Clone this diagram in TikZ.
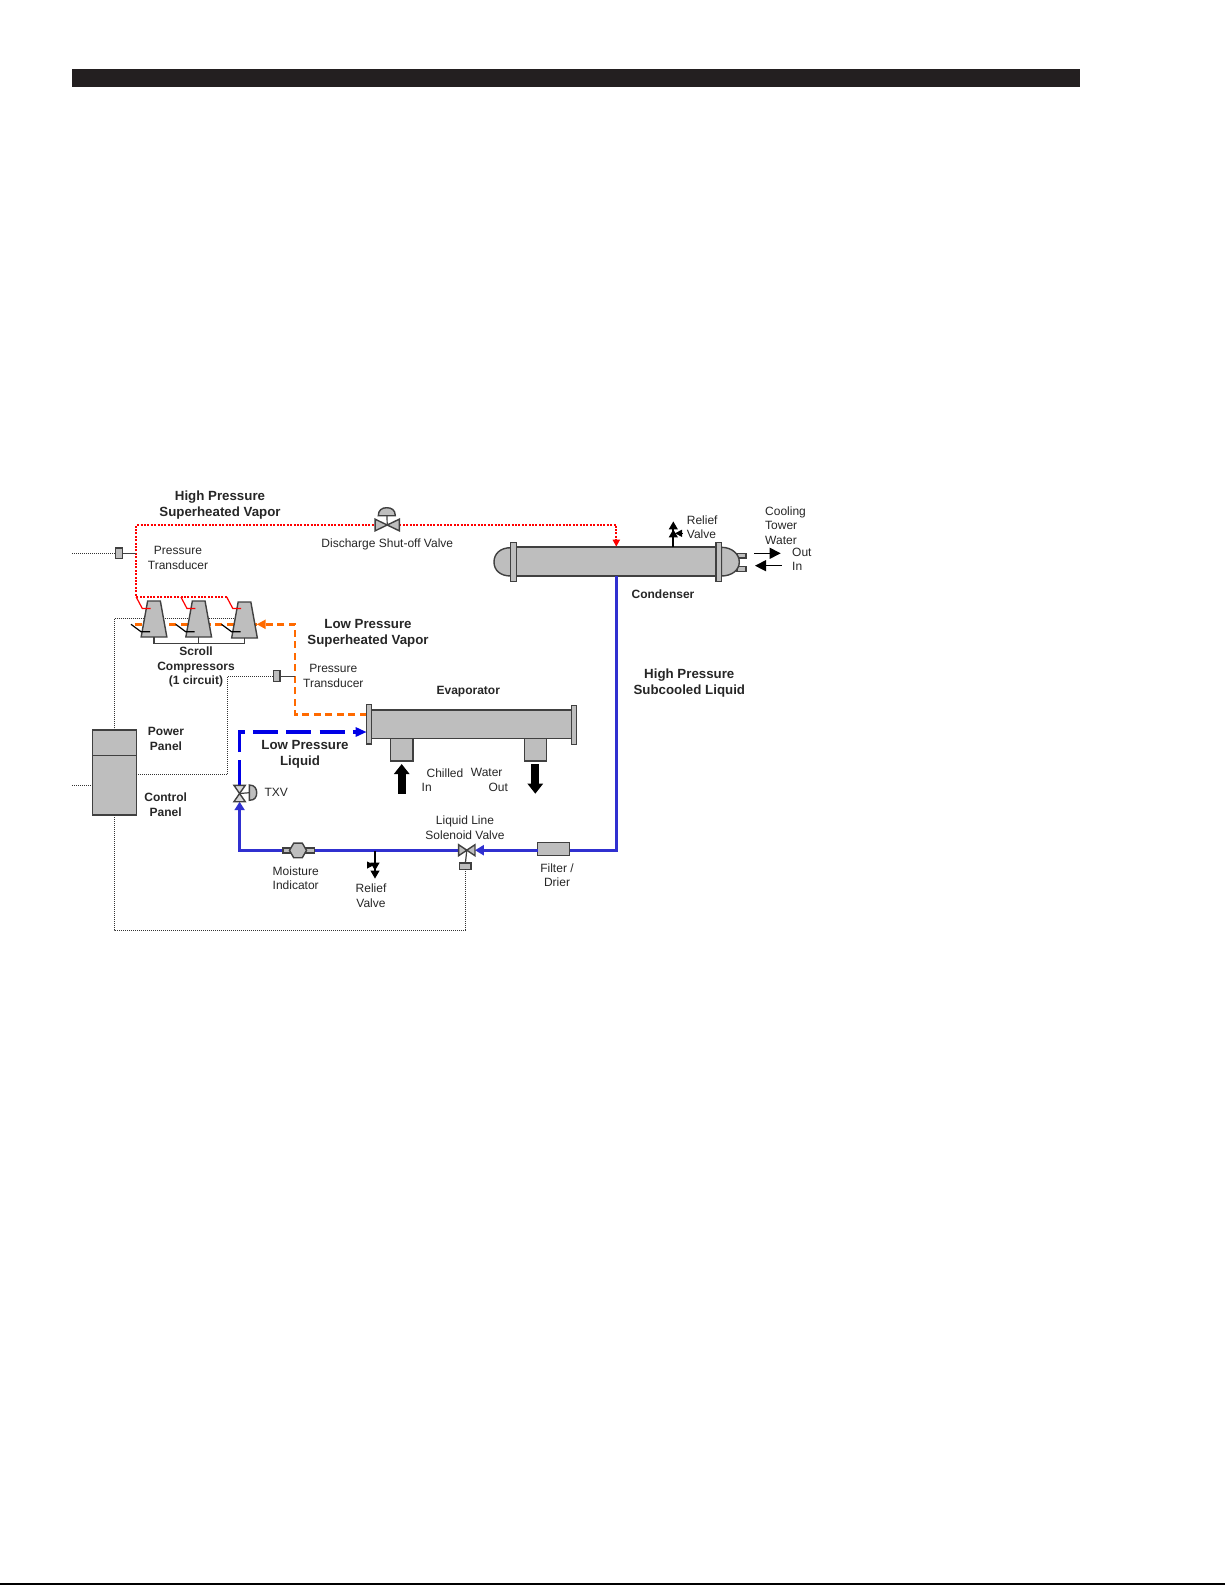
\documentclass[tikz,border=0pt]{standalone}
\usepackage{fontspec}
\setmainfont{Liberation Sans}
\usepackage{tikz}
\usetikzlibrary{arrows.meta}
\usetikzlibrary{shapes.geometric,positioning}
\definecolor{bodygrey}{HTML}{BEBEBE}
\definecolor{edgegrey}{HTML}{404040}
\definecolor{barblack}{HTML}{231F20}
\definecolor{hotred}{HTML}{FF0000}
\definecolor{suctionorange}{HTML}{FF6A00}
\definecolor{liquidblue}{HTML}{3030D0}
\definecolor{expandblue}{HTML}{0000E6}
\tikzset{
	unitbox/.style={draw=edgegrey, fill=bodygrey, line width=1.4pt, inner sep=0pt, outer sep=0pt},
	compressor/.style={inner sep=0pt, outer sep=0pt, minimum width=25.7pt, minimum height=36pt},
	note/.style={font=\fontsize{12}{14.5}\selectfont, text=black!85, align=center, inner sep=0pt},
	notebold/.style={note, font=\fontsize{12}{14.5}\selectfont\bfseries},
	flowlabel/.style={note, font=\fontsize{13.3}{16}\selectfont\bfseries},
	signal/.style={draw=black!80, line width=0.8pt, dash pattern=on 1pt off 1pt},
	stemline/.style={draw=edgegrey, line width=1.2pt},
	hotpipe/.style={draw=hotred, line width=2.3pt, dash pattern=on 2pt off 1.4pt},
	suctionpipe/.style={draw=suctionorange, line width=2.4pt, dash pattern=on 7pt off 4.5pt},
	liquidpipe/.style={draw=liquidblue, line width=3.2pt},
	expandpipe/.style={draw=expandblue, line width=3.4pt, dash pattern=on 25pt off 8.3pt},
	blockarrow/.style={draw=black, line width=8pt, -{Triangle[length=10pt,width=15pt]}},
	thinarrow/.style={draw=black, line width=1.2pt, -{Triangle[length=11pt,width=11pt]}},
	reliefarrow/.style={draw=black, line width=2.2pt, -{Triangle[length=8pt,width=8.5pt] Triangle[length=8pt,width=8.5pt,sep=-2pt]}},
	sidearrow/.style={draw=black, line width=1pt, -{Triangle[length=7pt,width=7pt]}},
}
\begin{document}
\begin{tikzpicture}[x=1pt,y=-1pt]
	\useasboundingbox (0,0) rectangle (1225,1585);
	\node[fill=barblack, inner sep=0pt, minimum width=1007.8pt, minimum height=17.7pt] (topbar) at (575.8,77.9) {};
	\node[fill=black, inner sep=0pt, minimum width=1225pt, minimum height=1.6pt] (bottomrule) at (612.5,1584.2) {};

	\node[unitbox, minimum width=44pt, minimum height=25.7pt] (powerpanel) at (114.3,742.85) {};
	\node[unitbox, minimum width=44pt, minimum height=59.3pt] (controlpanel) at (114.3,785.35) {};
	\node[unitbox, minimum width=6.6pt, minimum height=10.7pt] (ptHigh) at (119,553.3) {};
	\node[unitbox, minimum width=6.7pt, minimum height=11pt] (ptLow) at (276.6,676.2) {};
	\node[unitbox, minimum width=11.3pt, minimum height=6.3pt] (solbox) at (465.4,866.2) {};

	\coordinate (ptHighleft) at (72.3,553.3);
	\coordinate (panelleft) at (72.3,785.35);
	\coordinate (panelside) at (136.3,774.3);
	\coordinate (wirebend) at (227.7,774.3);
	\coordinate (wiretop) at (233,618.3);
	\coordinate (wirelow) at (465.4,930);
	\draw[signal] (ptHighleft) -- (ptHigh.west);
	\draw[signal] (panelleft) -- (controlpanel.west);
	\draw[signal] (panelside) -- (wirebend) |- (ptLow.west);
	\draw[signal] (powerpanel.north) |- (wiretop);
	\draw[signal] (controlpanel.south) |- (wirelow) -- (solbox.south);

	\coordinate (evapout) at (366.7,714.5);
	\coordinate (lowturn) at (295,624.3);
	\coordinate (suctiontip) at (256.7,624.3);
	\coordinate (suctionend) at (131.7,624.3);
	\draw[suctionpipe] (suctiontip) -- (suctionend);
	\draw[suctionpipe, -{Triangle[length=9pt,width=9pt]}] (evapout) -| (lowturn) -- (suctiontip);
	\draw[stemline] (ptLow.east) -- (ptLow.east -| lowturn);

	\coordinate (hpend) at (226.7,597);
	\coordinate (hpcorner) at (136.3,597);
	\coordinate (condin) at (616.3,546.7);
	\node[inner sep=0pt, outer sep=0pt, minimum width=24.3pt, minimum height=11.7pt] (dischargevalve) at (387.2,525) {};
	\draw[hotpipe] (hpend) -- (hpcorner) |- (dischargevalve.west);
	\draw[hotpipe, -{Triangle[length=7pt,width=7pt]}] (dischargevalve.east) -| (condin);
	\draw[stemline] (ptHigh.east) -- (ptHigh.east -| hpcorner);
	\draw[unitbox] (dischargevalve.north west) -- (dischargevalve.south east) -- (dischargevalve.north east) -- (dischargevalve.south west) -- cycle;
	\coordinate (domefoot) at (387,515.7);
	\draw[stemline] (dischargevalve.center) -- (domefoot);
	\draw[unitbox] (378.3,515.7) .. controls (378.3,510) and (382,507.7) .. (386.8,507.7) .. controls (391.6,507.7) and (395.3,510) .. (395.3,515.7) -- cycle;

	\coordinate (busline) at (197.3,643.3);
	\foreach \n/\x/\y in {1/154/619, 2/198.7/619, 3/244.5/620}{
		\node[compressor] (comp\n) at (\x,\y) {};
		\draw[unitbox] (comp\n.south west) -- (comp\n.south east) -- ([xshift=-6.5pt]comp\n.north east) -- ([xshift=6.5pt]comp\n.north west) -- cycle;
		\coordinate (hot\n a) at (\x-17.8,597);
		\coordinate (hot\n b) at (\x-11.7,608.5);
		\coordinate (hot\n c) at (\x-3.3,608.5);
		\draw[draw=hotred, line width=1.2pt] (hot\n a) -- (hot\n b) -- (hot\n c);
		\coordinate (oil\n a) at (\x-23,624.3);
		\coordinate (oil\n b) at (\x-13,631.7);
		\coordinate (oil\n c) at (\x-4,631.7);
		\draw[draw=black, line width=1.2pt] (oil\n a) -- (oil\n b) -- (oil\n c);
	}
	\draw[stemline] (comp1.south) |- (busline) -| (comp3.south);
	\draw[stemline] (comp2.south) -- (comp2.south |- busline);

	\node[unitbox, minimum width=200.5pt, minimum height=29.3pt] (condenser) at (616,561.5) {};
	\node[unitbox, minimum width=9pt, minimum height=4.8pt] (towerout) at (741.5,555.7) {};
	\node[unitbox, minimum width=9pt, minimum height=4.8pt] (towerin) at (741.5,568.8) {};
	\draw[unitbox] (510.7,547.7) .. controls (500,547.7) and (494,554) .. (494,562) .. controls (494,570) and (500,576) .. (510.7,576) -- cycle;
	\draw[unitbox] (721.3,547.3) .. controls (732,547.3) and (739.3,554) .. (739.3,562) .. controls (739.3,570) and (732,576) .. (721.3,576) -- cycle;
	\node[unitbox, minimum width=5.6pt, minimum height=39pt] (condflangeL) at (513.5,562.2) {};
	\node[unitbox, minimum width=5.4pt, minimum height=39pt] (condflangeR) at (718.6,561.8) {};

	\node[unitbox, minimum width=201.3pt, minimum height=28.7pt] (evaporator) at (471.6,724.4) {};
	\node[unitbox, minimum width=5pt, minimum height=39.3pt] (evapflangeL) at (369.2,724.4) {};
	\node[unitbox, minimum width=5pt, minimum height=39pt] (evapflangeR) at (574.2,724.8) {};
	\node[unitbox, minimum width=22.3pt, minimum height=22.3pt] (chilledin) at (401.8,749.9) {};
	\node[unitbox, minimum width=22pt, minimum height=22.3pt] (chilledout) at (535.3,749.9) {};

	\node[inner sep=0pt, outer sep=0pt, minimum width=11.3pt, minimum height=16.4pt] (txv) at (239.6,793.5) {};
	\node[inner sep=0pt, outer sep=0pt, minimum width=16.3pt, minimum height=11pt] (solenoid) at (466.8,850.2) {};
	\node[unitbox, minimum width=32pt, minimum height=13pt] (filter) at (553.7,848.8) {};

	\coordinate (condout) at (616.3,576);
	\coordinate (evapin) at (366.7,732);
	\draw[liquidpipe] (condout) |- (filter.east |- solenoid);
	\draw[liquidpipe, -{Triangle[length=9pt,width=10pt]}] (filter.west |- solenoid) -- (solenoid.east);
	\draw[liquidpipe, -{Triangle[length=8.5pt,width=10pt]}] (solenoid.west) -| (txv.south);
	\draw[expandpipe, -{Triangle[length=11pt,width=9pt]}] (txv.north) |- (evapin);
	\draw[stemline] (solenoid.center) -- (solbox.north);
	\draw[unitbox, fill=bodygrey!60] (txv.north west) -- (txv.north east) -- (txv.south west) -- (txv.south east) -- cycle;
	\draw[unitbox] (solenoid.north west) -- (solenoid.south east) -- (solenoid.north east) -- (solenoid.south west) -- cycle;
	\coordinate (txvhead) at (249.3,792.7);
	\draw[stemline] (txv.center) -- (txvhead);
	\draw[unitbox] (249.3,785) .. controls (255,785) and (256.7,789) .. (256.7,792.7) .. controls (256.7,797) and (255,800.3) .. (249.3,800.3) -- cycle;

	\node[unitbox, minimum width=31.3pt, minimum height=5pt] (moisturepipe) at (298.6,850.6) {};
	\node[unitbox, regular polygon, regular polygon sides=6, minimum size=17pt] (moisture) at (298,850.4) {};

	\coordinate (reliefupbase) at (673.3,547.3);
	\coordinate (reliefuptip) at (673.3,523.3);
	\coordinate (reliefupside) at (682.5,533.3);
	\coordinate (reliefupmeet) at (675,533.3);
	\draw[reliefarrow] (reliefupbase) -- (reliefuptip);
	\draw[sidearrow] (reliefupside) -- (reliefupmeet);
	\coordinate (relieflowbase) at (375,851);
	\coordinate (relieflowtip) at (375,876.7);
	\coordinate (relieflowside) at (366.8,865);
	\coordinate (relieflowmeet) at (374,865);
	\draw[reliefarrow] (relieflowbase) -- (relieflowtip);
	\draw[sidearrow] (relieflowside) -- (relieflowmeet);

	\coordinate (chilledinbase) at (401.7,793.7);
	\coordinate (chilledintip) at (401.7,764);
	\coordinate (chilledoutbase) at (535.3,764);
	\coordinate (chilledouttip) at (535.3,793.7);
	\draw[blockarrow] (chilledinbase) -- (chilledintip);
	\draw[blockarrow] (chilledoutbase) -- (chilledouttip);
	\coordinate (coolOutA) at (754,553.3);
	\coordinate (coolOutB) at (780.7,553.3);
	\coordinate (coolInA) at (781.7,565.7);
	\coordinate (coolInB) at (755,565.7);
	\draw[thinarrow] (coolOutA) -- (coolOutB);
	\draw[thinarrow] (coolInA) -- (coolInB);

	\node[flowlabel] (hpvapor) at (220,505.5) {High Pressure\\Superheated Vapor};
	\node[flowlabel] (lpvapor) at (368,633.7) {Low Pressure\\Superheated Vapor};
	\node[flowlabel] (lpliquid) at (305,754.3) {Low Pressure\\\hspace*{-10pt}Liquid};
	\node[flowlabel] (hpliquid) at (689.3,683.3) {High Pressure\\Subcooled Liquid};
	\node[notebold] (scrolllabel) at (196,667) {Scroll\\Compressors\\(1 circuit)};
	\node[notebold] (powerlabel) at (166,739) {Power\\Panel};
	\node[notebold] (controllabel) at (165.7,804.7) {Control\\Panel};
	\node[notebold] (evaplabel) at (468.3,691.7) {Evaporator};
	\node[notebold] (condlabel) at (663,594) {Condenser};
	\node[note] (ptHighlabel) at (178,558) {Pressure\\Transducer};
	\node[note] (ptLowlabel) at (333.3,676) {Pressure\\Transducer};
	\node[note] (dischargelabel) at (387.3,544.3) {Discharge Shut-off Valve};
	\node[note] (txvlabel) at (276.3,792.3) {TXV};
	\node[note] (moisturelabel) at (295.7,878) {Moisture\\Indicator};
	\node[note] (relieflowlabel) at (371,895.8) {Relief\\Valve};
	\node[note] (solenoidlabel) at (465,827.6) {Liquid Line\\Solenoid Valve};
	\node[note] (filterlabel) at (557,875) {Filter /\\Drier};
	\node[note] (chilledlabel) at (445,772.7) {Chilled};
	\node[note] (waterlabel) at (486.7,772.7) {Water};
	\node[note] (inlabel) at (426.7,787.3) {In};
	\node[note] (outlabel) at (498.3,787.3) {Out};
	\node[note, align=left, anchor=west] (reliefuplabel) at (686.7,527) {Relief\\Valve};
	\node[note, align=left, anchor=west] (coolinglabel) at (765,525.7) {Cooling\\Tower\\Water};
	\node[note, anchor=west] (towerlabelout) at (792,552) {Out};
	\node[note, anchor=west] (towerlabelin) at (792,566) {In};
\end{tikzpicture}
\end{document}
